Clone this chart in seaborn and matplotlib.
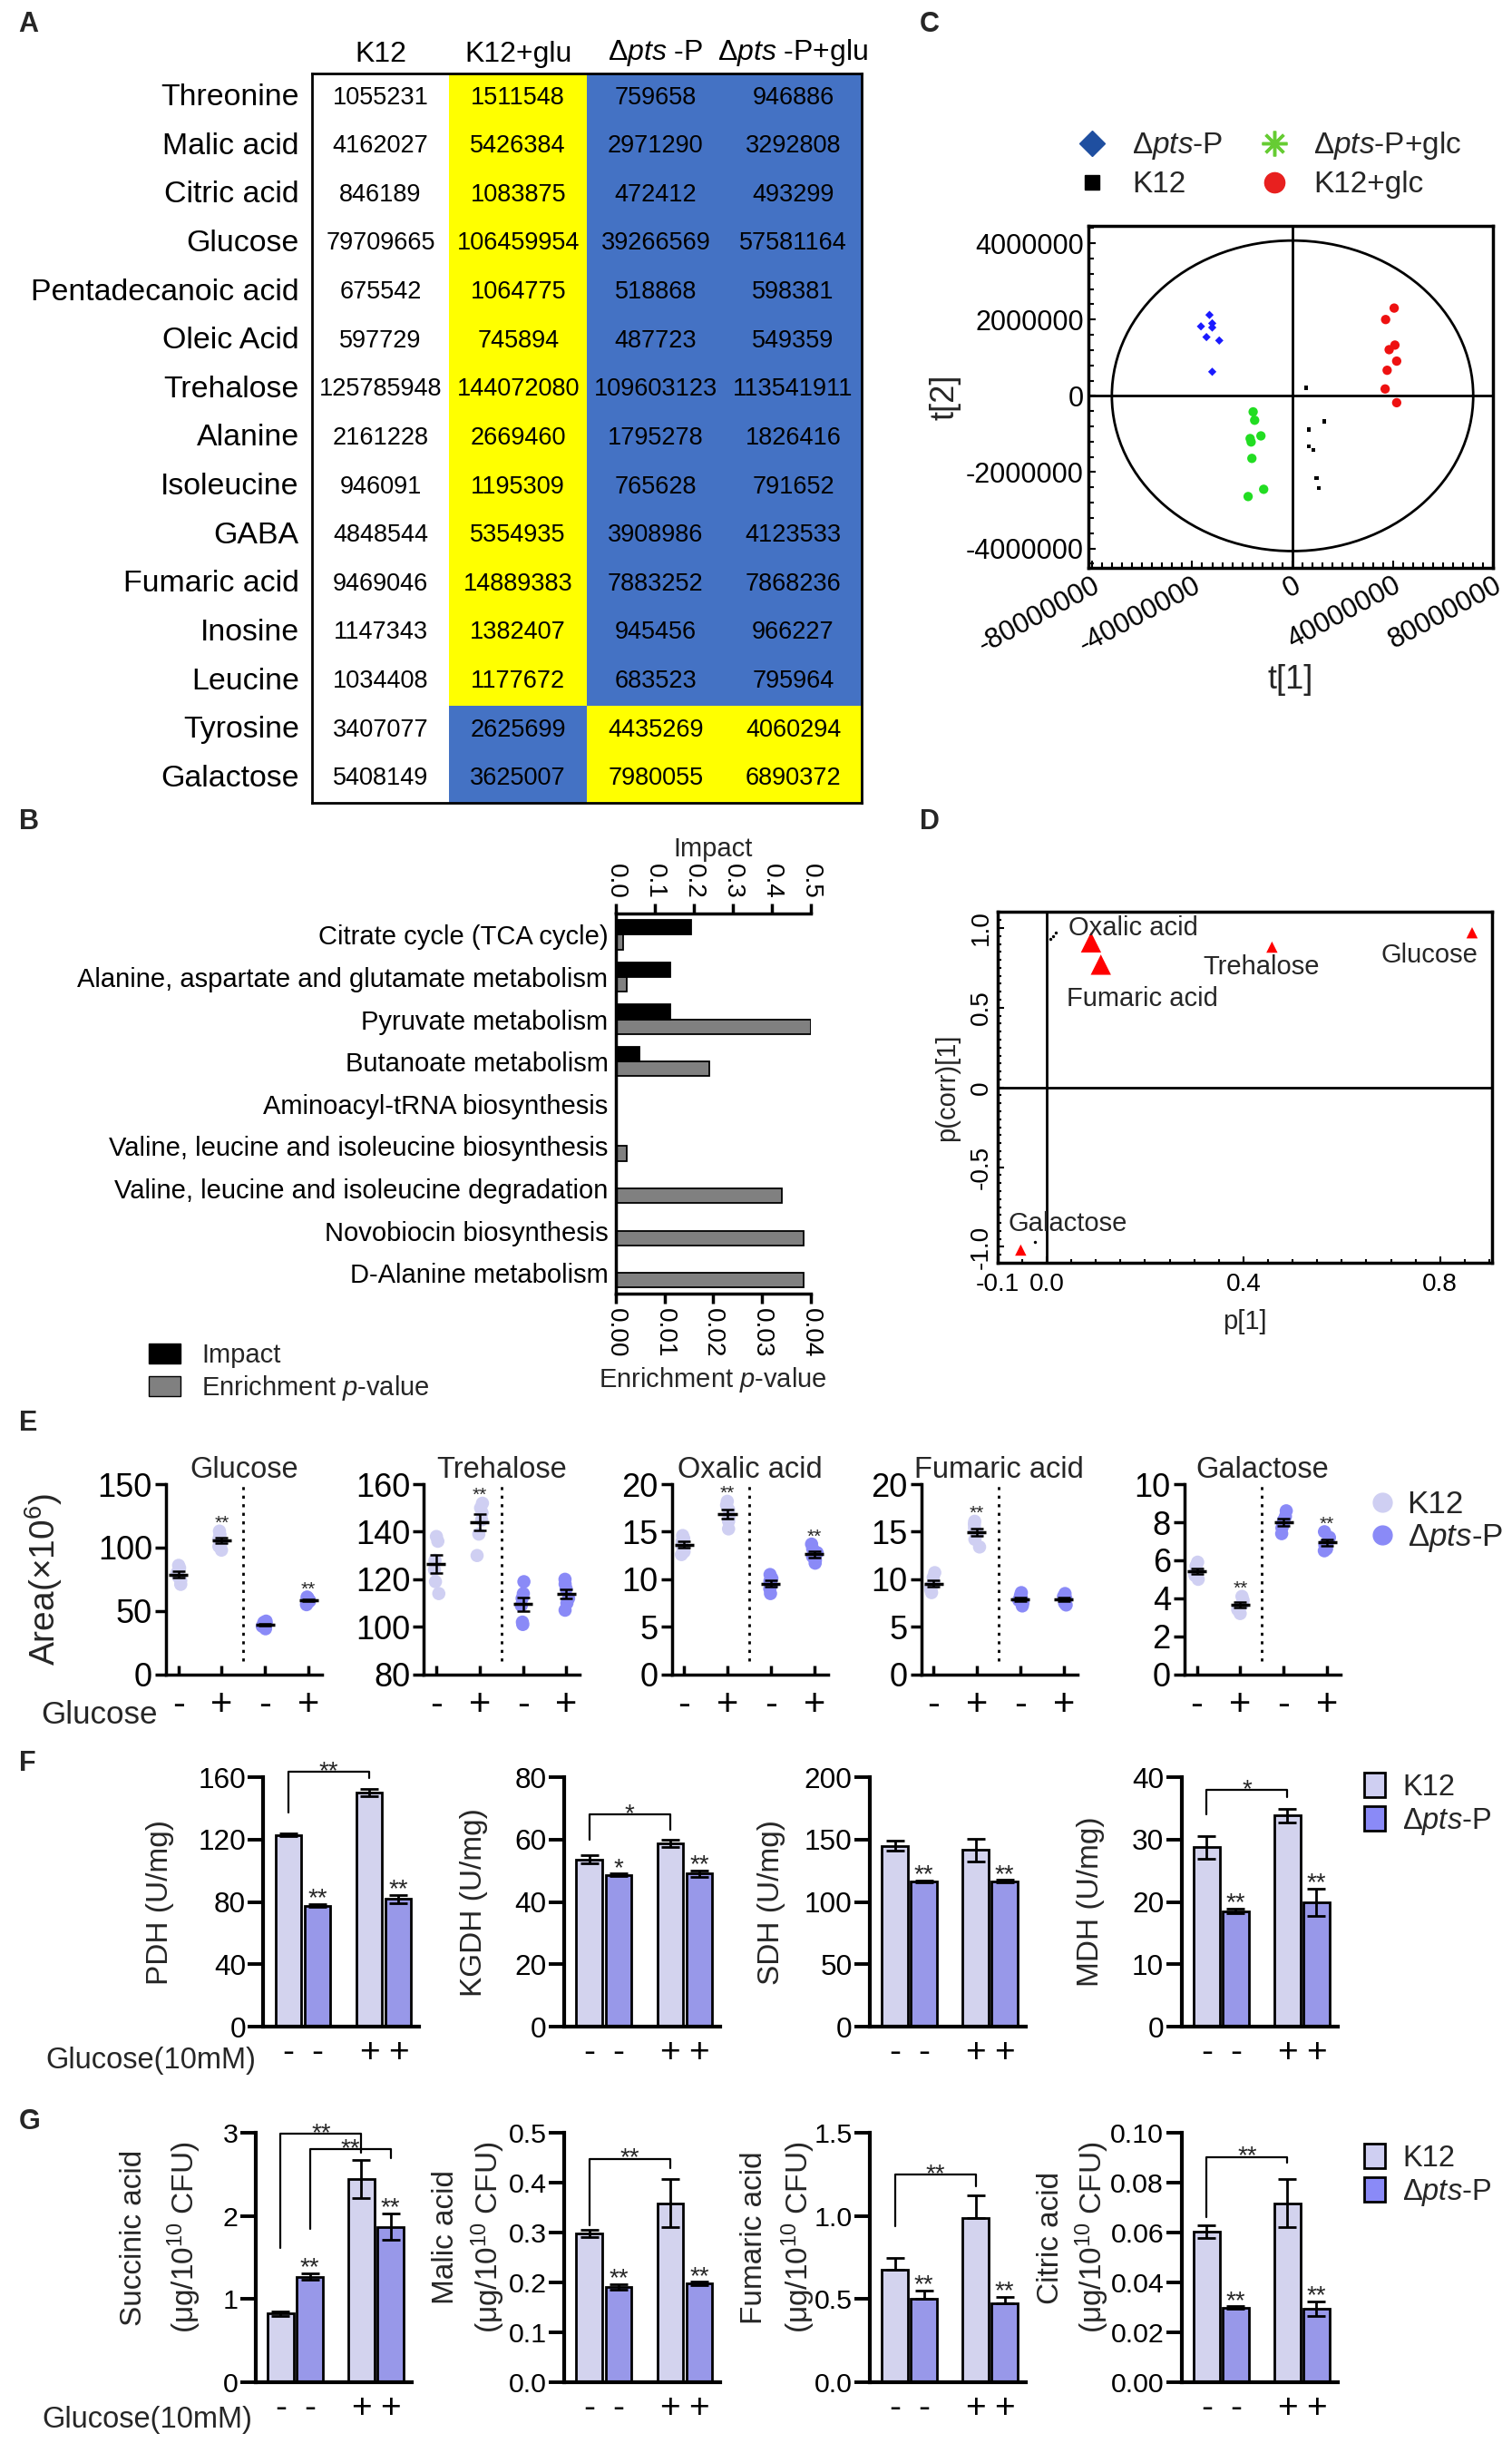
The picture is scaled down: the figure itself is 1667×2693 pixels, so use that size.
import numpy as np
import pandas as pd
import matplotlib
matplotlib.use("Agg")
import matplotlib.pyplot as plt
import seaborn as sns
from matplotlib import font_manager
from matplotlib.colors import ListedColormap
from matplotlib.patches import Ellipse, Patch
from matplotlib.lines import Line2D
from matplotlib.ticker import MultipleLocator

# ---------------- data ----------------
# A: peak areas of the changed metabolites
table_rows = ["Threonine", "Malic acid", "Citric acid", "Glucose", "Pentadecanoic acid",
              "Oleic Acid", "Trehalose", "Alanine", "Isoleucine", "GABA", "Fumaric acid",
              "Inosine", "Leucine", "Tyrosine", "Galactose"]
table_cols = ["K12", "K12+glu", "Δ$\\it{pts}$ -P", "Δ$\\it{pts}$ -P+glu"]
area_k12 = [1055231, 4162027, 846189, 79709665, 675542, 597729, 125785948, 2161228, 946091,
            4848544, 9469046, 1147343, 1034408, 3407077, 5408149]
area_k12_glu = [1511548, 5426384, 1083875, 106459954, 1064775, 745894, 144072080, 2669460,
                1195309, 5354935, 14889383, 1382407, 1177672, 2625699, 3625007]
area_pts = [759658, 2971290, 472412, 39266569, 518868, 487723, 109603123, 1795278, 765628,
            3908986, 7883252, 945456, 683523, 4435269, 7980055]
area_pts_glu = [946886, 3292808, 493299, 57581164, 598381, 549359, 113541911, 1826416, 791652,
                4123533, 7868236, 966227, 795964, 4060294, 6890372]

# B: pathway enrichment
pathways = ["Citrate cycle (TCA cycle)", "Alanine, aspartate and glutamate metabolism",
            "Pyruvate metabolism", "Butanoate metabolism", "Aminoacyl-tRNA biosynthesis",
            "Valine, leucine and isoleucine biosynthesis", "Valine, leucine and isoleucine degradation",
            "Novobiocin biosynthesis", "D-Alanine metabolism"]
impact = [0.193, 0.141, 0.140, 0.062, 0.0, 0.0, 0.0, 0.0, 0.0]
enrich_p = [0.0016, 0.0023, 0.0400, 0.0192, 0.0, 0.0023, 0.0341, 0.0386, 0.0386]

# C: PCA scores (millions)
t1_pts = [-33.1, -36.5, -32.0, -32.0, -34.3, -29.2, -32.0]
t2_pts = [2.12, 1.82, 1.90, 1.79, 1.54, 1.45, 0.63]
t1_pts_glc = [-15.7, -15.1, -16.9, -16.5, -12.6, -16.2, -17.7, -11.5]
t2_pts_glc = [-0.42, -0.64, -1.12, -1.21, -1.05, -1.64, -2.64, -2.45]
t1_k12 = [5.4, 12.6, 6.6, 6.6, 8.2, 9.5, 10.5]
t2_k12 = [0.21, -0.67, -0.88, -1.33, -1.42, -2.15, -2.42]
t1_k12_glc = [40.5, 37.1, 38.5, 40.8, 41.5, 37.7, 36.9, 41.5]
t2_k12_glc = [2.30, 2.00, 1.21, 1.33, 0.91, 0.67, 0.18, -0.18]

# D: S-plot
sp_names = ["Oxalic acid", "Fumaric acid", "Trehalose", "Glucose", "Galactose"]
sp_p1 = [0.090, 0.110, 0.458, 0.865, -0.053]
sp_pcorr = [0.91, 0.77, 0.88, 0.97, -1.02]
other_p1 = [0.008, 0.013, 0.018, -0.024]
other_pcorr = [0.93, 0.95, 0.97, -0.97]

# E: scatter values per group (K12 -, K12 +, pts -, pts +)
e_titles = ["Glucose", "Trehalose", "Oxalic acid", "Fumaric acid", "Galactose"]
e_glucose = [[86, 84, 80, 77, 74, 71], [113, 110, 107, 104, 101, 98],
             [42, 41, 40, 39, 38, 36], [61, 60, 59, 58, 57, 55]]
e_trehalose = [[138, 136, 128, 124, 119, 114], [152, 150, 148, 145, 139, 130],
               [119, 114, 112, 109, 102, 101], [120, 118, 116, 112, 110, 107]]
e_oxalic = [[14.6, 14.3, 14.0, 13.5, 12.9, 12.6], [18.2, 17.8, 17.3, 16.5, 16.1, 15.3],
            [10.5, 10.1, 9.8, 9.4, 9.0, 8.5], [13.7, 13.2, 12.8, 12.4, 12.0, 11.7]]
e_fumaric = [[10.7, 10.2, 9.6, 9.2, 8.9, 8.6], [16.1, 15.8, 15.4, 14.8, 14.2, 13.4],
             [8.6, 8.3, 8.0, 7.8, 7.5, 7.2], [8.5, 8.2, 8.0, 7.8, 7.5, 7.3]]
e_galactose = [[5.9, 5.7, 5.5, 5.3, 5.2, 5.0], [4.1, 3.9, 3.7, 3.6, 3.4, 3.2],
               [8.6, 8.3, 8.1, 7.9, 7.7, 7.4], [7.5, 7.2, 7.0, 6.8, 6.6, 6.5]]
e_sig = [[1, 3], [1], [1, 3], [1], [1, 3]]

# F: enzyme activity, order K12-, pts-, K12+, pts+
f_labels = ["PDH (U/mg)", "KGDH (U/mg)", "SDH (U/mg)", "MDH (U/mg)"]
f_means = [[123.0, 77.7, 150.3, 82.0], [53.7, 48.7, 58.8, 49.1],
           [145.0, 116.6, 141.8, 116.6], [28.8, 18.55, 33.9, 20.0]]
f_sems = [[1.0, 1.0, 2.5, 2.5], [1.2, 0.4, 1.2, 1.0],
          [4.0, 0.6, 9.0, 1.0], [1.8, 0.4, 1.1, 2.2]]
f_stars = [["**", "**"], ["*", "**"], ["**", "**"], ["**", "**"]]
f_brackets = [[(0, 2, "**", 163.4, 137.4, 159.5)], [(0, 2, "*", 68.0, 59.9, 63.3)], [],
              [(0, 2, "*", 38.0, 34.1, 36.8)]]

# G: metabolite content
g_labels = ["Succinic acid", "Malic acid", "Fumaric acid", "Citric acid"]
g_means = [[0.824, 1.27, 2.44, 1.87], [0.298, 0.191, 0.359, 0.198],
           [0.678, 0.503, 0.985, 0.472], [0.0604, 0.0299, 0.0718, 0.0295]]
g_sems = [[0.03, 0.04, 0.23, 0.16], [0.008, 0.006, 0.048, 0.003],
          [0.07, 0.05, 0.14, 0.04], [0.0025, 0.0005, 0.0096, 0.003]]
g_stars = [["**", "**"]] * 4
g_brackets = [[(0, 2, "**", 2.99, 1.61, 2.76), (1, 3, "**", 2.80, 1.84, 2.69)],
              [(0, 2, "**", 0.448, 0.315, 0.43)], [(0, 2, "**", 1.25, 0.937, 1.18)],
              [(0, 2, "**", 0.0903, 0.066, 0.0879)]]

# ---------------- style ----------------
sns.set_style("ticks")
installed = {f.name for f in font_manager.fontManager.ttflist}
NARROW = "Liberation Sans Narrow" if "Liberation Sans Narrow" in installed else "Liberation Sans"
NS = 1.0 if NARROW == "Liberation Sans Narrow" else 0.84
plt.rcParams["font.family"] = ["Liberation Sans", "DejaVu Sans"]
plt.rcParams.update({"mathtext.fontset": "custom", "mathtext.rm": "Liberation Sans",
                     "mathtext.it": "Liberation Sans:italic", "mathtext.bf": "Liberation Sans:bold",
                     "axes.linewidth": 2.5, "axes.edgecolor": "black",
                     "xtick.color": "black", "ytick.color": "black"})
K12_C, PTS_C = "#cfcff2", "#8a8af7"
pal = {"K12": K12_C, "Δpts-P": PTS_C}
PTS_LAB = "Δ$\\it{pts}$-P"

W, H = 970, 1567
fig = plt.figure(figsize=(16.67, 26.93), dpi=100)


def box(l, t, r, b):
    return fig.add_axes([l / W, 1 - b / H, (r - l) / W, (b - t) / H])


def ftext(x, y, s, **kw):
    fig.text(x / W, 1 - y / H, s, **kw)


def narrow(labels, size):
    plt.setp(labels, fontfamily=NARROW, fontsize=size * NS)


for letter, (x, y) in zip("ABCDEFG", [(12, 16), (12, 527), (590, 16), (590, 527),
                                      (12, 913), (12, 1131), (12, 1361)]):
    ftext(x, y, letter, fontsize=22, fontweight="bold", va="center")

# ---------------- A ----------------
axA = box(200, 47, 553, 515)
vals = np.array([area_k12, area_k12_glu, area_pts, area_pts_glu]).T
level = np.where(vals > vals[:, :1], 1, 2)
level[:, 0] = 0
annot = np.array([[str(v) for v in row] for row in vals])
sns.heatmap(level, ax=axA, cmap=ListedColormap(["white", "#ffff00", "#4472c4"]), vmin=-0.5, vmax=2.5,
            cbar=False, annot=annot, fmt="", xticklabels=table_cols, yticklabels=table_rows,
            annot_kws={"fontsize": 19.5 if NS < 1 else 22, "family": NARROW, "color": "black"})
axA.xaxis.tick_top()
axA.tick_params(length=0)
axA.tick_params(axis="x", pad=4)
axA.tick_params(axis="y", pad=10)
plt.setp(axA.get_xticklabels(), fontsize=23, rotation=0)
narrow(axA.get_yticklabels(), 29)
plt.setp(axA.get_yticklabels(), rotation=0)
for s in axA.spines.values():
    s.set_visible(True)
    s.set_linewidth(2)

# ---------------- B ----------------
axB = box(395, 586, 520, 830)
axB2 = axB.twiny()
kinds = ["Impact", "Enrichment p-value"]
dfB_enr = pd.DataFrame({"pathway": pathways, "value": enrich_p, "kind": kinds[1]})
dfB_imp = pd.DataFrame({"pathway": pathways, "value": impact, "kind": kinds[0]})
b_pal = {kinds[0]: "black", kinds[1]: "#808080"}
sns.barplot(data=dfB_enr, x="value", y="pathway", hue="kind", hue_order=kinds, order=pathways,
            palette=b_pal, width=0.7, dodge=True, edgecolor="black", linewidth=1.3,
            legend=False, ax=axB)
sns.barplot(data=dfB_imp, x="value", y="pathway", hue="kind", hue_order=kinds, order=pathways,
            palette=b_pal, width=0.7, dodge=True, edgecolor="black", linewidth=1.3,
            legend=False, ax=axB2)
axB.set_xlim(0, 0.04)
axB2.set_xlim(0, 0.5)
axB.set_xticks(np.arange(0, 0.041, 0.01))
axB.set_xticklabels([f"{v:.2f}" for v in np.arange(0, 0.041, 0.01)], rotation=270)
axB2.set_xticks(np.arange(0, 0.51, 0.1))
axB2.set_xticklabels([f"{v:.1f}" for v in np.arange(0, 0.51, 0.1)], rotation=270)
narrow(axB.get_xticklabels() + axB2.get_xticklabels(), 24)
narrow(axB.get_yticklabels(), 25)
axB.tick_params(axis="y", length=0, pad=6)
axB.tick_params(axis="x", length=8, width=2.5)
axB2.tick_params(axis="x", length=8, width=2.5)
for k in ["top", "right"]:
    axB.spines[k].set_visible(False)
for k in ["left", "right", "bottom"]:
    axB2.spines[k].set_visible(False)
axB.set_ylabel("")
axB2.set_ylabel("")
axB.set_xlabel("Enrichment $\\it{p}$-value", fontfamily=NARROW, fontsize=25 * NS, labelpad=6)
axB2.set_xlabel("Impact", fontfamily=NARROW, fontsize=25 * NS, labelpad=6)
fig.legend(handles=[Patch(fc="black", ec="black"), Patch(fc="#808080", ec="black")],
           labels=["Impact", "Enrichment $\\it{p}$-value"], loc="upper left",
           bbox_to_anchor=(80 / W, 1 - 846 / H), frameon=False,
           prop={"family": NARROW, "size": 25 * NS}, handlelength=1.2, handleheight=0.8,
           labelspacing=0.2, handletextpad=0.8)

# ---------------- C ----------------
groups_c = ["Δpts-P", "Δpts-P+glc", "K12", "K12+glc"]
dfC = pd.DataFrame({
    "t1": np.concatenate([t1_pts, t1_pts_glc, t1_k12, t1_k12_glc]) * 1e6,
    "t2": np.concatenate([t2_pts, t2_pts_glc, t2_k12, t2_k12_glc]) * 1e6,
    "group": np.repeat(groups_c, [len(t1_pts), len(t1_pts_glc), len(t1_k12), len(t1_k12_glc)]),
})
axC = box(698, 145, 958, 364)
sns.scatterplot(data=dfC, x="t1", y="t2", hue="group", style="group", size="group",
                palette={"Δpts-P": "#1a1aff", "Δpts-P+glc": "#22dd22", "K12": "black", "K12+glc": "#ee1111"},
                markers={"Δpts-P": "D", "Δpts-P+glc": "o", "K12": "s", "K12+glc": "o"},
                sizes={"Δpts-P": 22, "Δpts-P+glc": 55, "K12": 10, "K12+glc": 55},
                linewidth=0, legend=False, ax=axC)
axC.add_patch(Ellipse((0, 0), 144e6, 8.14e6, fill=False, lw=2, color="black"))
axC.axhline(0, color="black", lw=2)
axC.axvline(0, color="black", lw=2)
axC.set_xlim(-81.5e6, 80e6)
axC.set_ylim(-4.5e6, 4.45e6)
xt = [-8e7, -4e7, 0, 4e7, 8e7]
axC.set_xticks(xt)
axC.set_xticklabels([str(int(v)) for v in xt])
yt = [4e6, 2e6, 0, -2e6, -4e6]
axC.set_yticks(yt)
axC.set_yticklabels([str(int(v)) for v in yt])
axC.xaxis.set_minor_locator(MultipleLocator(4e6))
axC.yaxis.set_minor_locator(MultipleLocator(4e5))
axC.tick_params(which="both", direction="in", width=1.5, labelsize=22)
axC.tick_params(which="major", length=6)
axC.tick_params(which="minor", length=4)
for lab in axC.get_xticklabels():
    lab.set_rotation(28)
    lab.set_ha("right")
    lab.set_rotation_mode("anchor")
axC.set_xlabel("t[1]", fontsize=26, labelpad=4)
axC.set_ylabel("t[2]", fontsize=26, labelpad=4)
fig.legend(handles=[Line2D([], [], marker="D", color="#1f4fa0", ls="", ms=14),
                    Line2D([], [], marker="s", color="black", ls="", ms=12),
                    Line2D([], [], marker=(8, 2, 0), color="#66cc33", ls="", ms=20, mew=2.5),
                    Line2D([], [], marker="o", color="#e8201f", ls="", ms=16)],
           labels=[PTS_LAB, "K12", PTS_LAB + "+glc", "K12+glc"], ncol=2, loc="upper left",
           bbox_to_anchor=(664 / W, 1 - 66 / H), frameon=False, fontsize=24,
           labelspacing=0.3, columnspacing=0.7, handletextpad=0.3)

# ---------------- D ----------------
axD = box(640, 585, 957, 810)
d_big = {"Oxalic acid": 2, "Fumaric acid": 2}
dfD = pd.DataFrame({"p1": sp_p1, "pcorr": sp_pcorr, "name": sp_names})
dfD["sz"] = [d_big.get(n, 1) for n in sp_names]
sns.scatterplot(data=dfD, x="p1", y="pcorr", size="sz", sizes=(80, 260), marker="^", color="red",
                linewidth=0, legend=False, ax=axD)
sns.scatterplot(x=other_p1, y=other_pcorr, color="black", s=6, linewidth=0, ax=axD)
d_offsets = {"Oxalic acid": (-18, 11), "Fumaric acid": (-27, -27), "Trehalose": (-55, -16),
             "Glucose": (-72, -17.5), "Galactose": (-10, 21)}
for n, x, y in zip(sp_names, sp_p1, sp_pcorr):
    axD.annotate(n, (x, y), xytext=d_offsets[n], textcoords="offset points", ha="left",
                 va="center", fontfamily=NARROW, fontsize=25 * NS)
axD.axhline(0, color="black", lw=2)
axD.axvline(0, color="black", lw=2)
axD.set_xlim(-0.1, 0.905)
axD.set_ylim(-1.1, 1.1)
axD.set_xticks([-0.1, 0.0, 0.4, 0.8])
axD.set_xticklabels(["-0.1", "0.0", "0.4", "0.8"])
axD.set_yticks([-1.0, -0.5, 0, 0.5, 1.0])
axD.set_yticklabels(["-1.0", "-0.5", "0", "0.5", "1.0"], rotation=90, va="center")
axD.xaxis.set_minor_locator(MultipleLocator(0.05))
axD.yaxis.set_minor_locator(MultipleLocator(0.05))
axD.tick_params(which="both", direction="in", width=1.5)
axD.tick_params(which="major", length=5)
axD.tick_params(which="minor", length=3)
axD.tick_params(axis="x", pad=8)
narrow(axD.get_xticklabels() + axD.get_yticklabels(), 24)
axD.set_xlabel("p[1]", fontfamily=NARROW, fontsize=25 * NS, labelpad=10)
axD.set_ylabel("p(corr)[1]", fontfamily=NARROW, fontsize=25 * NS, labelpad=8)

# ---------------- E ----------------
e_sets = [e_glucose, e_trehalose, e_oxalic, e_fumaric, e_galactose]
e_ylims = [(0, 150, 50), (80, 160, 20), (0, 20, 5), (0, 20, 5), (0, 10, 2)]
e_groups = ["K12 -", "K12 +", "pts -", "pts +"]
e_strain = ["K12", "K12", "Δpts-P", "Δpts-P"]
e_left = [106.6, 272, 431, 591, 760]
np.random.seed(3)
for k, (title, sets) in enumerate(zip(e_titles, e_sets)):
    ax = box(e_left[k], 952, e_left[k] + 100, 1074)
    df = pd.DataFrame([(e_groups[g], e_strain[g], v) for g, vs in enumerate(sets) for v in vs],
                      columns=["group", "strain", "value"])
    sns.stripplot(data=df, x="group", y="value", hue="strain", order=e_groups, palette=pal,
                  jitter=0.07, size=10.5, linewidth=0, legend=False, ax=ax, zorder=2)
    for g, vs in enumerate(sets):
        m = np.mean(vs)
        se = np.std(vs, ddof=1) / np.sqrt(len(vs))
        ax.hlines(m, g - 0.22, g + 0.22, color="black", lw=2.5, zorder=5)
        ax.errorbar(g, m, yerr=se, color="black", capsize=5, lw=1.8, capthick=1.8, zorder=5)
    for g in e_sig[k]:
        ax.annotate("**", (g, max(sets[g])), xytext=(0, 2), textcoords="offset points",
                    ha="center", va="baseline", fontsize=15)
    lo, hi, step = e_ylims[k]
    ax.axvline(1.5, ymin=0.07, ymax=0.99, color="black", ls=(0, (1.2, 2.2)), lw=2)
    ax.set_ylim(lo, hi)
    ax.set_yticks(np.arange(lo, hi + step / 2, step))
    ax.set_xlim(-0.28, 3.31)
    ax.set_xticks(range(4))
    ax.set_xticklabels(["-", "+", "-", "+"], fontsize=30)
    ax.tick_params(axis="x", direction="in", length=7, width=2.5, pad=10)
    ax.tick_params(axis="y", direction="out", length=9, width=2.5, pad=2)
    narrow(ax.get_yticklabels(), 31)
    sns.despine(ax=ax)
    ax.set_xlabel("")
    ax.set_title(title, fontfamily=NARROW, fontsize=28 * NS, pad=4)
    if k == 0:
        ax.set_ylabel("Area(×10$^6$)", fontsize=28)
        ax.yaxis.set_label_coords(-0.65, 0.5)
    else:
        ax.set_ylabel("")
ftext(101, 1100, "Glucose", ha="right", va="center", fontfamily=NARROW, fontsize=30 * NS)
fig.legend(handles=[Line2D([], [], marker="o", color=K12_C, ls="", ms=15),
                    Line2D([], [], marker="o", color=PTS_C, ls="", ms=15)],
           labels=["K12", PTS_LAB], loc="upper left", bbox_to_anchor=(858 / W, 1 - 937 / H),
           frameon=False, prop={"family": NARROW, "size": 30 * NS}, labelspacing=0.1,
           handletextpad=0.3, handlelength=1.0)


# ---------------- F & G ----------------
def bar_panel(ax, means, sems, ylim, step, fmt, stars, brackets, up_only=False, tsize=27):
    df = pd.DataFrame({"glc": ["-", "-", "+", "+"], "strain": ["K12", "Δpts-P", "K12", "Δpts-P"],
                       "value": means})
    sns.barplot(data=df, x="glc", y="value", hue="strain", order=["-", "+"],
                hue_order=["K12", "Δpts-P"], palette=pal, width=0.72, gap=0.11,
                edgecolor="black", linewidth=2, errorbar=None, legend=False, ax=ax)
    bars = sorted(ax.patches, key=lambda p: p.get_x())
    xs = [p.get_x() + p.get_width() / 2 for p in bars]
    lower = [0] * 4 if up_only else sems
    ax.errorbar(xs, means, yerr=[lower, sems], fmt="none", ecolor="black", elinewidth=2,
                capsize=7, capthick=2, zorder=5)
    for idx, s in zip([1, 3], stars):
        ax.annotate(s, (xs[idx], means[idx] + sems[idx]), xytext=(0, -1), textcoords="offset points",
                    ha="center", va="baseline", fontsize=20, annotation_clip=False)
    for i, j, s, top, lb, rb in brackets:
        ax.plot([xs[i], xs[i], xs[j], xs[j]], [lb, top, top, rb], color="black", lw=1.6, clip_on=False)
        ax.annotate(s, ((xs[i] + xs[j]) / 2, top), xytext=(0, -5), textcoords="offset points",
                    ha="center", va="baseline", fontsize=20, annotation_clip=False)
    ax.set_ylim(0, ylim)
    ticks = np.arange(0, ylim + step / 2, step)
    ax.set_yticks(ticks)
    ax.set_yticklabels([fmt.format(t) for t in ticks])
    narrow(ax.get_yticklabels(), tsize)
    ax.set_xlim(-0.49, 1.44)
    ax.set_xticks(xs)
    ax.set_xticklabels(["-", "-", "+", "+"], fontsize=28)
    ax.tick_params(axis="x", length=0, pad=8)
    ax.tick_params(axis="y", length=12, width=2.8, pad=2)
    for sp in ["left", "bottom"]:
        ax.spines[sp].set_linewidth(3)
    sns.despine(ax=ax)
    ax.set_xlabel("")
    ax.set_ylabel("")


f_ylims = [(160, 40, "{:.0f}"), (80, 20, "{:.0f}"), (200, 50, "{:.0f}"), (40, 10, "{:.0f}")]
f_left = [169, 362, 558, 758]
f_lab_x = [-0.57, -0.49, -0.54, -0.49]
for k in range(4):
    ax = box(f_left[k], 1140, f_left[k] + 100, 1300)
    ylim, step, fmt = f_ylims[k]
    bar_panel(ax, f_means[k], f_sems[k], ylim, step, fmt, f_stars[k], f_brackets[k])
    ax.set_ylabel(f_labels[k], fontsize=24)
    ax.yaxis.set_label_coords(f_lab_x[k], 0.5)
ftext(164, 1322, "Glucose(10mM)", ha="right", va="center", fontfamily=NARROW, fontsize=28 * NS)

g_ylims = [(3, 1, "{:.0f}"), (0.5, 0.1, "{:.1f}"), (1.5, 0.5, "{:.1f}"), (0.10, 0.02, "{:.2f}")]
g_left = [164, 362, 558, 758]
g_lab_x = [(-0.78, -0.46), (-0.76, -0.49), (-0.74, -0.46), (-0.84, -0.57)]
for k in range(4):
    ax = box(g_left[k], 1368, g_left[k] + 100, 1528)
    ylim, step, fmt = g_ylims[k]
    bar_panel(ax, g_means[k], g_sems[k], ylim, step, fmt, g_stars[k], g_brackets[k],
              up_only=(k == 2), tsize=26)
    x1, x2 = g_lab_x[k]
    ax.text(x1, 0.58, g_labels[k], transform=ax.transAxes, rotation=90, ha="center", va="center",
            fontsize=24)
    ax.text(x2, 0.58, "(μg/10$^{10}$ CFU)", transform=ax.transAxes, rotation=90, ha="center",
            va="center", fontsize=24)
ftext(162, 1552, "Glucose(10mM)", ha="right", va="center", fontfamily=NARROW, fontsize=28 * NS)

for y in [1120, 1358]:
    fig.legend(handles=[Patch(fc=K12_C, ec="black", lw=2), Patch(fc=PTS_C, ec="black", lw=2)],
               labels=["K12", PTS_LAB], loc="upper left", bbox_to_anchor=(858 / W, 1 - y / H),
               frameon=False, prop={"family": NARROW, "size": 28 * NS}, labelspacing=0.15,
               handlelength=0.7, handleheight=0.9, handletextpad=0.6)

fig.savefig("out.png", dpi=100)
